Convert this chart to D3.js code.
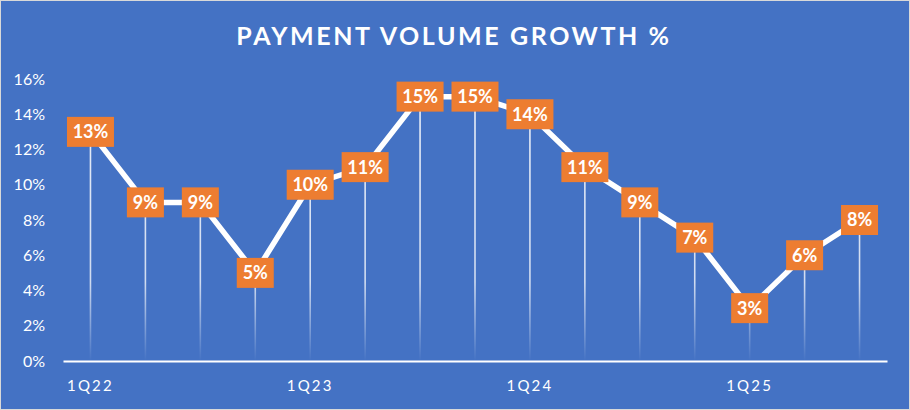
<!DOCTYPE html>
<html lang="en">
<head>
  <meta charset="UTF-8">
  <title>Payment Volume Growth %</title>
  <style>
    body { margin: 0; background: #ffffff; }
    svg { display: block; font-family: 'Lato', 'Open Sans', sans-serif; }
  </style>
  <script src="https://d3js.org/d3.v7.min.js"></script>
</head>
<body>
  <div id="chart"></div>
  <script>
    // quarters 1Q22 .. 3Q25
    const quarters = ['1Q22','2Q22','3Q22','4Q22','1Q23','2Q23','3Q23','4Q23',
                      '1Q24','2Q24','3Q24','4Q24','1Q25','2Q25','3Q25'];
    const growth   = [13, 9, 9, 5, 10, 11, 15, 15, 14, 11, 9, 7, 3, 6, 8];
    const xLabels  = ['1Q22','1Q23','1Q24','1Q25'];
    const yTicks   = [0, 2, 4, 6, 8, 10, 12, 14, 16];

    const W = 910, H = 410,
          M = { top: 79, right: 23, bottom: 49, left: 63 };

    const svg = d3.select('#chart').append('svg')
      .attr('width', W).attr('height', H);

    svg.append('rect')
      .attr('x', 0.5).attr('y', 0.5).attr('width', W - 1).attr('height', H - 1)
      .attr('fill', '#4472C4').attr('stroke', '#d9d9d9');

    svg.append('text')
      .attr('x', 454).attr('y', 45)
      .attr('text-anchor', 'middle')
      .attr('fill', '#fff').attr('font-size', 25).attr('font-weight', 700)
      .attr('letter-spacing', 2.6)
      .text('PAYMENT VOLUME GROWTH %');

    const x = d3.scaleBand().domain(quarters)
      .range([M.left, W - M.right]);
    const y = d3.scaleLinear().domain([0, 16])
      .range([H - M.bottom, M.top]);
    const cx = d => x(d) + x.bandwidth() / 2;

    // fade for the drop lines
    const grad = svg.append('defs').append('linearGradient')
      .attr('id', 'fade').attr('gradientUnits', 'userSpaceOnUse')
      .attr('x1', 0).attr('x2', 0).attr('y1', y(16)).attr('y2', y(0));
    grad.append('stop').attr('offset', 0).attr('stop-color', '#fff').attr('stop-opacity', 0.9);
    grad.append('stop').attr('offset', 0.72).attr('stop-color', '#fff').attr('stop-opacity', 0.75);
    grad.append('stop').attr('offset', 1).attr('stop-color', '#fff').attr('stop-opacity', 0);

    // y axis labels
    const yAxis = svg.append('g')
      .attr('transform', `translate(${M.left - 18},0)`)
      .call(d3.axisLeft(y).tickValues(yTicks).tickFormat(d => d + '%').tickSize(0).tickPadding(0));
    yAxis.select('.domain').remove();
    yAxis.selectAll('text')
      .attr('fill', '#fff').attr('font-size', 16)
      .attr('font-family', "'Lato', 'Open Sans', sans-serif");

    // x axis
    const xAxis = svg.append('g')
      .attr('transform', `translate(0,${y(0)})`)
      .call(d3.axisBottom(x).tickValues(xLabels).tickSize(0).tickPadding(19));
    xAxis.select('.domain').attr('stroke', '#fff').attr('stroke-width', 2);
    xAxis.selectAll('text')
      .attr('fill', '#fff').attr('font-size', 15).attr('letter-spacing', 2.2)
      .attr('font-family', "'Lato', 'Open Sans', sans-serif");

    const pts = quarters.map((q, i) => ({ q, v: growth[i] }));

    // drop lines
    svg.append('g').selectAll('line').data(pts).join('line')
      .attr('x1', d => cx(d.q)).attr('x2', d => cx(d.q))
      .attr('y1', d => y(d.v)).attr('y2', y(0) - 1)
      .attr('stroke', 'url(#fade)').attr('stroke-width', 1.6);

    // main line
    svg.append('path').datum(pts)
      .attr('d', d3.line().x(d => cx(d.q)).y(d => y(d.v)))
      .attr('fill', 'none').attr('stroke', '#fff')
      .attr('stroke-width', 5.5).attr('stroke-linejoin', 'round');

    // data labels
    const lab = svg.append('g').selectAll('g').data(pts).join('g')
      .attr('transform', d => `translate(${cx(d.q)},${y(d.v)})`);
    lab.append('rect')
      .attr('x', d => d.v >= 10 ? -23.5 : -18.5)
      .attr('width', d => d.v >= 10 ? 47 : 37)
      .attr('y', -15).attr('height', 30)
      .attr('fill', '#ED7D31');
    lab.append('text')
      .attr('text-anchor', 'middle').attr('dy', '0.36em')
      .attr('fill', '#fff').attr('font-size', 18).attr('font-weight', 700)
      .text(d => d.v + '%');
  </script>
</body>
</html>
